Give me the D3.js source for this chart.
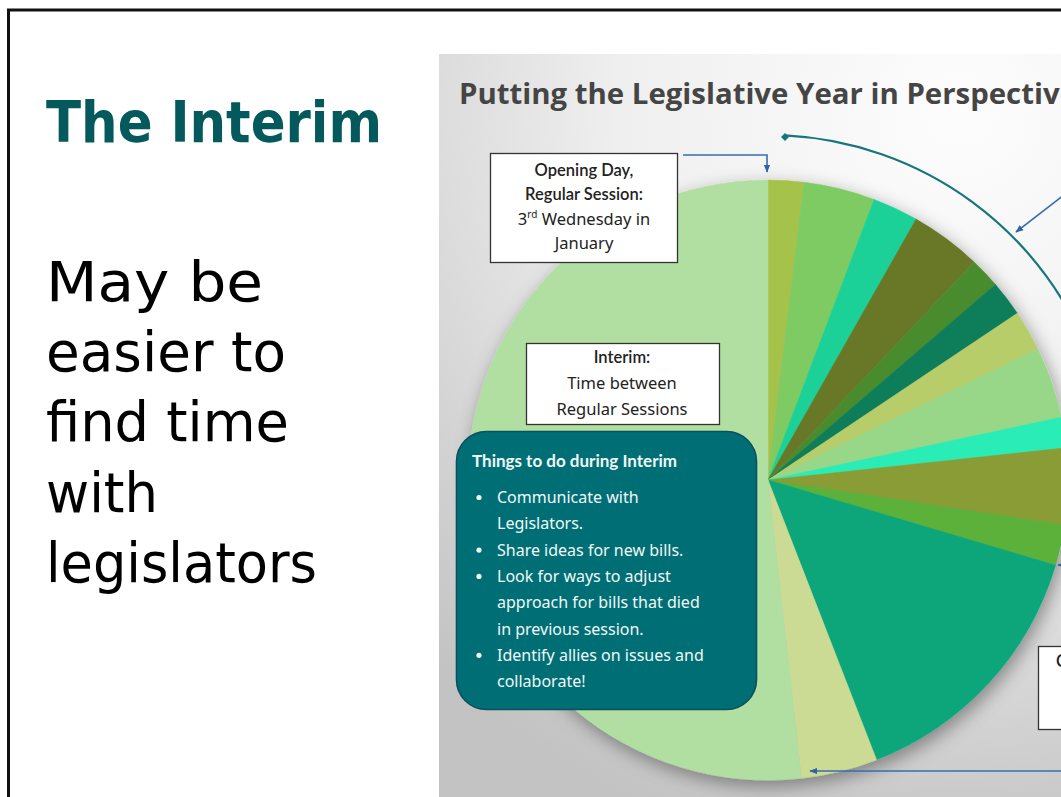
<html>
<head>
<meta charset="utf-8">
<title>The Interim</title>
<style>
  body { margin: 0; background: #fff; }
  svg { display: block; }
  .box text { font-family: "Noto Sans", sans-serif; font-size: 16.5px; fill: #222; text-anchor: middle; }
  .box .head { font-family: Lato, sans-serif; font-weight: 600; }
  .todo text { font-family: "Noto Sans", sans-serif; font-size: 16px; fill: #f2f8f8; }
</style>
</head>
<body>
<svg width="1061" height="797"></svg>
<script src="https://d3js.org/d3.v7.min.js"></script>
<script>

// days of the year per wedge, clockwise from opening day (last one = interim)
var sliceDays = [7, 14, 9, 14, 6, 7, 8, 14, 6, 15, 8, 53, 15, 189];
var sliceColors = ["#a5c34b", "#7ecb63", "#1fd197", "#687828", "#4a8c2e", "#0e7d5a", "#b7cd6b",
                   "#99d788", "#2cecb6", "#8a9c35", "#5bb13b", "#0da67a", "#ccdb94", "#b1dfa1"];

var bodyLines = ["May be", "easier to", "find time", "with", "legislators"];
var openingLines = ["Opening Day,", "Regular Session:", "Wednesday in", "January"];
var interimLines = ["Interim:", "Time between", "Regular Sessions"];
var todoItems = [
  ["Communicate with", "Legislators."],
  ["Share ideas for new bills."],
  ["Look for ways to adjust", "approach for bills that died", "in previous session."],
  ["Identify allies on issues and", "collaborate!"]
];

var svg = d3.select("svg");
var defs = svg.append("defs");

// slide frame
svg.append("path")
    .attr("d", "M8.5,797V10H1061")
    .attr("fill", "none")
    .attr("stroke", "#111")
    .attr("stroke-width", 3);

// left side text
svg.append("text")
    .attr("x", 46).attr("y", 142)
    .attr("textLength", 336).attr("lengthAdjust", "spacingAndGlyphs")
    .style("font", "bold 57px 'DejaVu Sans', sans-serif")
    .style("fill", "#03595b")
    .text("The Interim");

var bodyWidths = [217, 240, 243, 112, 271];
svg.selectAll(".body")
  .data(bodyLines)
  .enter().append("text")
    .attr("class", "body")
    .attr("x", 46)
    .attr("y", function(d, i) { return 301 + i * 70.2; })
    .attr("textLength", function(d, i) { return bodyWidths[i]; })
    .attr("lengthAdjust", "spacingAndGlyphs")
    .style("font", "400 56px 'DejaVu Sans', sans-serif")
    .style("fill", "#000")
    .text(function(d) { return d; });

// picture panel
var grad = defs.append("radialGradient")
    .attr("id", "bg")
    .attr("gradientUnits", "userSpaceOnUse")
    .attr("cx", 960).attr("cy", 110).attr("r", 760);
grad.append("stop").attr("offset", 0).attr("stop-color", "#fdfdfd");
grad.append("stop").attr("offset", 0.45).attr("stop-color", "#efefef");
grad.append("stop").attr("offset", 1).attr("stop-color", "#c3c3c3");

defs.append("clipPath").attr("id", "panel")
  .append("rect").attr("x", 439).attr("y", 54).attr("width", 700).attr("height", 800);

var shadow = defs.append("filter").attr("id", "shadow")
    .attr("x", "-20%").attr("y", "-20%").attr("width", "140%").attr("height", "140%");
shadow.append("feDropShadow")
    .attr("dx", 3).attr("dy", 6).attr("stdDeviation", 9)
    .attr("flood-color", "#000").attr("flood-opacity", 0.38);

["arrowBlue", "arrowTeal"].forEach(function(id, i) {
  defs.append("marker")
      .attr("id", id)
      .attr("viewBox", "0 0 10 10")
      .attr("refX", 9).attr("refY", 5)
      .attr("markerWidth", 5).attr("markerHeight", 5)
      .attr("orient", "auto")
    .append("path")
      .attr("d", "M0,1L10,5L0,9Z")
      .attr("fill", i ? "#17767d" : "#2f63a8");
});

var panel = svg.append("g").attr("clip-path", "url(#panel)");

panel.append("rect")
    .attr("x", 439).attr("y", 54).attr("width", 700).attr("height", 800)
    .attr("fill", "url(#bg)");

panel.append("text")
    .attr("x", 459).attr("y", 104)
    .attr("textLength", 618).attr("lengthAdjust", "spacingAndGlyphs")
    .style("font", "bold 28px 'Open Sans', sans-serif")
    .style("fill", "#454545")
    .text("Putting the Legislative Year in Perspective");

// the pie
var cx = 768, cy = 480, radius = 300;

var pie = d3.pie().sort(null).value(function(d) { return d; });
var arc = d3.arc().innerRadius(0).outerRadius(radius);
var color = d3.scaleOrdinal().domain(d3.range(sliceDays.length)).range(sliceColors);

var pieG = panel.append("g")
    .attr("transform", "translate(" + cx + "," + cy + ")")
    .attr("filter", "url(#shadow)");

pieG.selectAll("path")
  .data(pie(sliceDays))
  .enter().append("path")
    .attr("d", arc)
    .attr("fill", function(d, i) { return color(i); })
    .attr("stroke", function(d, i) { return color(i); })
    .attr("stroke-width", 0.5);

// session arc around the pie
var sessionArc = d3.arc().innerRadius(345).outerRadius(345)
    .startAngle(2.8 * Math.PI / 180).endAngle(70 * Math.PI / 180);
panel.append("path")
    .attr("transform", "translate(" + cx + "," + cy + ")")
    .attr("d", sessionArc().split("L")[0])
    .attr("fill", "none")
    .attr("stroke", "#17767d")
    .attr("stroke-width", 2.2);
panel.append("path")
    .attr("d", "M785,133L789,137L785,141L781,137Z")
    .attr("fill", "#17767d");

// leader arrows
var arrows = [
  "M683,155H767V172",
  "M1064,195L1016,232",
  "M1064,771H810",
  "M1064,565H1058"
];
panel.selectAll(".leader")
  .data(arrows)
  .enter().append("path")
    .attr("class", "leader")
    .attr("d", function(d) { return d; })
    .attr("fill", "none")
    .attr("stroke", "#3a6cb0")
    .attr("stroke-width", 1.6)
    .attr("marker-end", "url(#arrowBlue)");

// white label boxes
function labelBox(x, y, w, h) {
  var g = panel.append("g").attr("class", "box");
  g.append("rect")
      .attr("x", x).attr("y", y).attr("width", w).attr("height", h)
      .attr("fill", "#fff")
      .attr("stroke", "#333")
      .attr("stroke-width", 1.3);
  return g;
}

var opening = labelBox(490.5, 153.5, 187, 109);
opening.selectAll("text")
  .data(openingLines)
  .enter().append("text")
    .attr("class", function(d, i) { return i < 2 ? "head" : null; })
    .attr("x", 584)
    .attr("y", function(d, i) { return 176 + i * 24.3; })
    .each(function(d, i) {
      var t = d3.select(this);
      if (i == 2) {
        t.append("tspan").text("3");
        t.append("tspan").attr("baseline-shift", "super").style("font-size", "10px").text("rd");
        t.append("tspan").text(" " + d);
      } else {
        t.text(d);
      }
    });

var interim = labelBox(526.5, 343.5, 193, 81);
interim.selectAll("text")
  .data(interimLines)
  .enter().append("text")
    .attr("class", function(d, i) { return i == 0 ? "head" : null; })
    .attr("x", 622)
    .attr("y", function(d, i) { return 363 + i * 26; })
    .text(function(d) { return d; });

// only the left edge of this box is inside the picture
var closing = labelBox(1038.5, 646.5, 200, 83);
closing.append("text")
    .attr("class", "head")
    .attr("x", 1056).attr("y", 667)
    .style("text-anchor", "start")
    .text("Closing Day,");

// things to do box
var todo = panel.append("g").attr("class", "todo");
todo.append("rect")
    .attr("x", 456.5).attr("y", 431.5).attr("width", 300).attr("height", 278)
    .attr("rx", 30).attr("ry", 30)
    .attr("fill", "#006f75")
    .attr("stroke", "#0c4f5e")
    .attr("stroke-width", 1.6);

todo.append("text")
    .attr("x", 472).attr("y", 467)
    .style("font-family", "Lato, sans-serif")
    .style("font-weight", 700)
    .style("font-size", "17px")
    .text("Things to do during Interim");

var lineY = 503;
todoItems.forEach(function(item) {
  todo.append("circle")
      .attr("cx", 479).attr("cy", lineY - 5.5).attr("r", 2.6)
      .attr("fill", "#f2f8f8");
  item.forEach(function(line, j) {
    todo.append("text")
        .attr("x", 497).attr("y", lineY)
        .text(line);
    lineY += 26.3;
  });
});

</script>
</body>
</html>
